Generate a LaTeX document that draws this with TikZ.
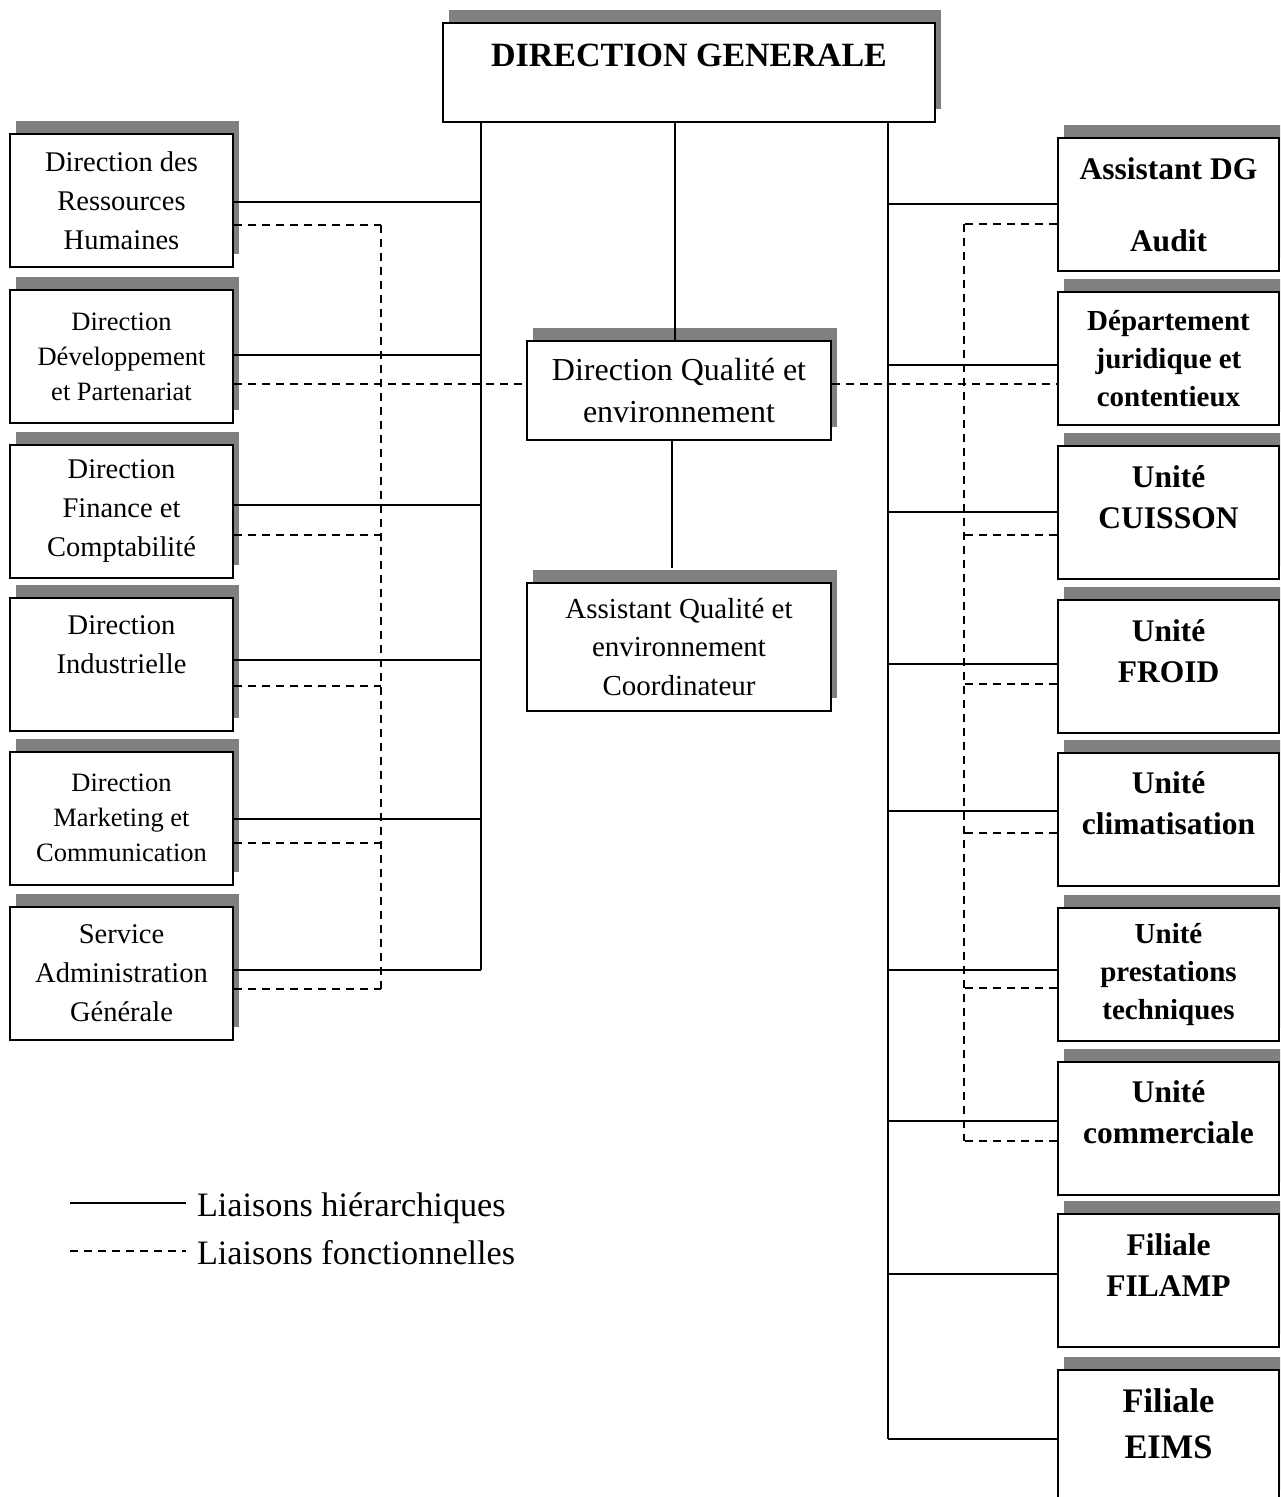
\documentclass[tikz,border=0pt]{standalone}
\usepackage{fontspec}
\setmainfont{Liberation Serif}
\usetikzlibrary{positioning,calc,shadows}

\definecolor{shadowgray}{RGB}{128,128,128}

\begin{document}
\begin{tikzpicture}[
        x=0.5pt, y=-0.5pt,
        line width=1pt,
        unit/.style={rectangle, draw, line width=1pt, fill=white, align=center, inner sep=0pt,
          drop shadow={fill=shadowgray, opacity=1, draw=none, shadow xshift=3pt, shadow yshift=6.5pt}},
        leftbox/.style={unit, minimum width=111.5pt, minimum height=66.5pt, font=\fontsize{14.25}{19.5}\selectfont},
        leftsmall/.style={leftbox, font=\fontsize{13.25}{17.5}\selectfont},
        rightbox/.style={unit, minimum width=110.5pt, minimum height=66.5pt, font=\fontsize{15.75}{20.5}\bfseries},
        rightsmall/.style={rightbox, font=\fontsize{14.5}{19}\bfseries},
        func/.style={dash pattern=on 4pt off 3pt},
        legend/.style={inner sep=0pt, font=\fontsize{17.1}{20}\selectfont}
      ]
        \path[use as bounding box, clip] (0,0) rectangle (1280,1497);

        % top and centre
        \node[unit, minimum width=246pt, minimum height=49.5pt, font=\fontsize{17}{17.5}\bfseries] (dg) at (689,72.5) {DIRECTION GENERALE\\~};
        \node[unit, minimum width=152pt, minimum height=49.5pt, font=\fontsize{16}{21}\selectfont] (dqe) at (679,390.5) {Direction Qualité et\\environnement};
        \node[unit, minimum width=152pt, minimum height=64pt, font=\fontsize{14.5}{19.25}\selectfont] (aqe) at (679,647) {Assistant Qualité et\\environnement\\Coordinateur};

        % left column
        \node[leftbox] (drh) at (121.5,200.5) {Direction des\\Ressources\\Humaines};
        \node[leftsmall] (ddp) at (121.5,356.5) {Direction\\Développement\\et Partenariat};
        \node[leftbox] (dfc) at (121.5,511.5) {Direction\\Finance et\\Comptabilité};
        \node[leftbox] (di) at (121.5,664.5) {Direction\\Industrielle\\~};
        \node[leftsmall] (dmc) at (121.5,818) {Direction\\Marketing et\\Communication};
        \node[leftbox] (sag) at (121.5,973.5) {Service\\Administration\\Générale};

        % right column
        \node[rightbox] (adg) at (1168.5,204.5) {Assistant DG\\[15.5pt]Audit};
        \node[rightsmall] (djc) at (1168.5,359) {Département\\juridique et\\contentieux};
        \node[rightbox] (cui) at (1168.5,512.5) {Unité\\CUISSON\\[-5pt]~};
        \node[rightbox] (fro) at (1168.5,666.5) {Unité\\FROID\\[-5pt]~};
        \node[rightbox] (cli) at (1168.5,819) {Unité\\climatisation\\[-5pt]~};
        \node[rightsmall] (upt) at (1168.5,974.5) {Unité\\prestations\\techniques};
        \node[rightbox] (com) at (1168.5,1128) {Unité\\commerciale\\[-5pt]~};
        \node[rightbox] (fil) at (1168.5,1280.5) {Filiale\\FILAMP\\[-5pt]~};
        \node[rightbox, font=\fontsize{17.2}{23}\bfseries] (eims) at (1168.5,1436.5) {Filiale\\EIMS\\[-10pt]~};

        % trunks
        \coordinate (lh) at (481,0);
        \coordinate (lf) at (381,0);
        \coordinate (rh) at (888,0);
        \coordinate (rf) at (964,0);

        \foreach \n/\s/\d in {drh/1.5/24.5, ddp/-1.5/27.5, dfc/-6.5/23.5, di/-4.5/21.5, dmc/1/25, sag/-3.5/15.5} {
          \coordinate (\n-h) at ($(\n.east)+(0,\s)$);
          \coordinate (\n-f) at ($(\n.east)+(0,\d)$);
          \draw (\n-h) -- (\n-h -| lh);
        }
        \foreach \n/\s/\d in {adg/-0.5/19.5, djc/6/25, cui/-0.5/22.5, fro/-2.5/17.5, cli/-8/14, upt/-4.5/13.5, com/-7/13, fil/-6.5/0, eims/2.5/0} {
          \coordinate (\n-h) at ($(\n.west)+(0,\s)$);
          \coordinate (\n-f) at ($(\n.west)+(0,\d)$);
          \draw (\n-h) -- (\n-h -| rh);
        }
        \foreach \n in {drh, dfc, di, dmc, sag}
          \draw[func] (\n-f) -- (\n-f -| lf);
        \foreach \n in {adg, cui, fro, cli, upt, com}
          \draw[func] (\n-f) -- (\n-f -| rf);

        \draw (dg.south -| lh) -- (sag-h -| lh);
        \draw (dg.south -| rh) -- (eims-h -| rh);
        \draw[func] (drh-f -| lf) -- (sag-f -| lf);
        \draw[func] (adg-f -| rf) -- (com-f -| rf);
        \draw[func] (ddp-f) -- (ddp-f -| dqe.west);
        \draw[func] (dqe.east |- djc-f) -- (djc-f);

        \coordinate (qtop) at ($(dqe.north)+(-4,0)$);
        \draw (qtop |- dg.south) -- (qtop);
        \draw ($(dqe.south)+(-7,0)$) -- ($(aqe.north)+(-7,-14)$);

        % legend
        \node[legend, anchor=base west] (lhier) at (196,1216) {Liaisons hiérarchiques};
        \node[legend, anchor=base west] (lfonc) at (196,1264) {Liaisons fonctionnelles};
        \coordinate (leg1) at (70,1203);
        \coordinate (leg2) at (70,1251);
        \draw (leg1) -- ($(leg1 -| lhier.west)+(-10,0)$);
        \draw[func] (leg2) -- ($(leg2 -| lfonc.west)+(-10,0)$);

      \end{tikzpicture}
\end{document}
